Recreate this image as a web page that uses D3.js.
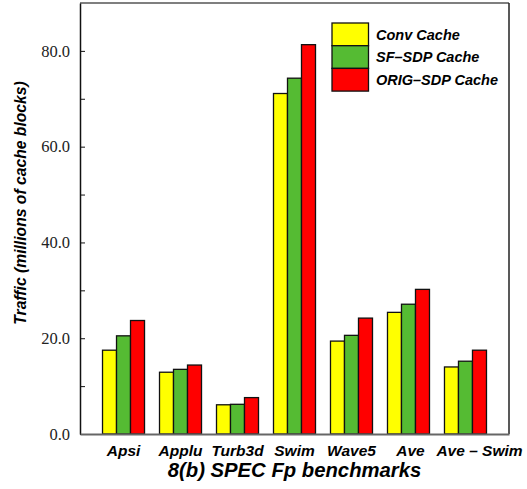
<!DOCTYPE html>
<html>
<head>
<meta charset="utf-8">
<script src="https://cdn.jsdelivr.net/npm/d3@7/dist/d3.min.js"></script>
<style>
  html, body { margin: 0; padding: 0; background: #fff; }
  svg { display: block; }
  .label { font-family: "Liberation Sans", Arial, sans-serif; font-weight: bold; font-style: italic; }
</style>
</head>
<body>
<svg id="chart" width="527" height="489"></svg>
<script>
// Benchmarks and traffic (millions of cache blocks) per cache design
const categories = ["Apsi", "Applu", "Turb3d", "Swim", "Wave5", "Ave", "Ave \u2013 Swim"];
const seriesNames = ["Conv Cache", "SF\u2013SDP Cache", "ORIG\u2013SDP Cache"];
const convCache = [17.5, 12.9, 6.1, 71.1, 19.4, 25.4, 14.0];
const sfSdpCache = [20.5, 13.5, 6.2, 74.3, 20.6, 27.1, 15.2];
const origSdpCache = [23.7, 14.4, 7.6, 81.3, 24.2, 30.2, 17.5];
const majorTicks = [0, 20, 40, 60, 80];
const minorTicks = [10, 30, 50, 70];
const colors = ["#ffff00", "#55bb33", "#ff0000"];

const seriesValues = [convCache, sfSdpCache, origSdpCache];

const svg = d3.select("#chart");
const plot = { left: 80, right: 509, top: 3, bottom: 434 };

const x = d3.scaleBand()
  .domain(categories)
  .range([plot.left, plot.right])
  .paddingInner(0.263)
  .paddingOuter(0.395);

const xSeries = d3.scaleBand()
  .domain(seriesNames)
  .range([0, x.bandwidth()]);

const y = d3.scaleLinear().domain([0, 90]).range([plot.bottom, plot.top]);

// frame: top and right edges
svg.append("line")
  .attr("x1", plot.left).attr("x2", plot.right)
  .attr("y1", plot.top).attr("y2", plot.top)
  .attr("stroke", "#555").attr("stroke-width", 1.5);
svg.append("line")
  .attr("x1", plot.right).attr("x2", plot.right)
  .attr("y1", plot.top).attr("y2", plot.bottom)
  .attr("stroke", "#222").attr("stroke-width", 1.5);

// bars
const groups = svg.append("g").selectAll("g")
  .data(categories)
  .join("g")
  .attr("transform", d => `translate(${x(d)},0)`);

groups.selectAll("rect")
  .data((d, i) => seriesNames.map((s, k) => ({ s, k, v: seriesValues[k][i] })))
  .join("rect")
  .attr("x", d => xSeries(d.s))
  .attr("width", xSeries.bandwidth())
  .attr("y", d => y(d.v))
  .attr("height", d => y(0) - y(d.v))
  .attr("fill", d => colors[d.k])
  .attr("stroke", "#111")
  .attr("stroke-width", 1.3);

// y axis with inward ticks, serif numerals
const yAxis = d3.axisLeft(y)
  .tickValues(majorTicks)
  .tickFormat(d3.format(".1f"))
  .tickSizeInner(-5)
  .tickSizeOuter(0)
  .tickPadding(10);

const yg = svg.append("g")
  .attr("transform", `translate(${plot.left},0)`)
  .call(yAxis)
  .style("font-family", "'Liberation Serif', 'Times New Roman', Times, serif")
  .style("font-size", "16.5px");
yg.select(".domain").attr("stroke", "#111").attr("stroke-width", 1.5);
yg.selectAll(".tick line").attr("stroke", "#111").attr("stroke-width", 1);
yg.selectAll(".tick text")
  .style("font-family", "'Liberation Serif', 'Times New Roman', Times, serif")
  .style("font-size", "16.5px")
  .attr("fill", "#222");

const yMinor = d3.axisLeft(y)
  .tickValues(minorTicks)
  .tickFormat("")
  .tickSizeInner(-5)
  .tickSizeOuter(0);
const ym = svg.append("g")
  .attr("transform", `translate(${plot.left},0)`)
  .call(yMinor);
ym.select(".domain").remove();
ym.selectAll(".tick line").attr("stroke", "#111");

// x axis; the last two labels sit a little right of their groups
const labelShift = { "Ave": 2, "Ave \u2013 Swim": 14 };
const xAxis = d3.axisBottom(x).tickSize(0).tickPadding(11);
const xg = svg.append("g")
  .attr("transform", `translate(0,${plot.bottom})`)
  .call(xAxis)
  .attr("font-family", null);
xg.select(".domain").attr("stroke", "#666").attr("stroke-width", 2.2);
xg.selectAll(".tick text")
  .attr("class", "label")
  .attr("dx", d => labelShift[d] || 0)
  .style("font-size", "15.5px")
  .attr("fill", "#000");

// titles
svg.append("text")
  .attr("class", "label")
  .attr("x", (plot.left + plot.right) / 2)
  .attr("y", 477)
  .attr("text-anchor", "middle")
  .style("font-size", "20.3px")
  .text("8(b) SPEC Fp benchmarks");

svg.append("text")
  .attr("class", "label")
  .attr("transform", "translate(26,203) rotate(-90)")
  .attr("text-anchor", "middle")
  .style("font-size", "15.7px")
  .text("Traffic (millions of cache blocks)");

// legend
const legend = svg.append("g").attr("transform", "translate(332,23)");
const swatchH = 22.7;
legend.selectAll("rect")
  .data(seriesNames)
  .join("rect")
  .attr("x", 0)
  .attr("y", (d, i) => i * swatchH)
  .attr("width", 36.5)
  .attr("height", swatchH)
  .attr("fill", (d, i) => colors[i])
  .attr("stroke", "#111")
  .attr("stroke-width", 1.3);
legend.selectAll("text")
  .data(seriesNames)
  .join("text")
  .attr("class", "label")
  .attr("x", 44)
  .attr("y", (d, i) => i * swatchH + swatchH / 2)
  .attr("dy", "0.36em")
  .style("font-size", "14.5px")
  .text(d => d);
</script>
</body>
</html>
